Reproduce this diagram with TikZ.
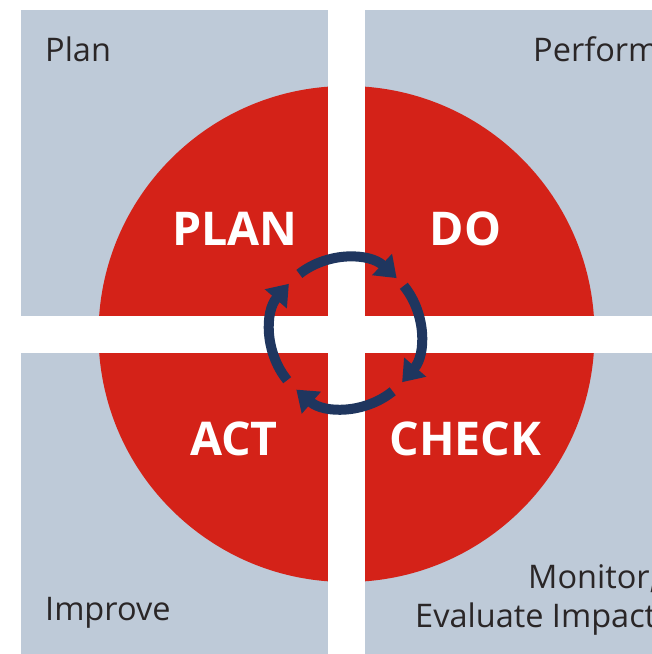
\documentclass[tikz,border=0pt]{standalone}
\usepackage{fontspec}
\setmainfont{Open Sans}
\usetikzlibrary{arrows.meta}
\definecolor{panel}{HTML}{BECAD8}
\definecolor{pdcared}{HTML}{D42218}
\definecolor{ringblue}{HTML}{1F365F}
\definecolor{labeltext}{HTML}{2A2627}
\tikzset{
  panelbox/.style={fill=panel, draw=none},
  gapband/.style={fill=white, draw=none},
  cornerlabel/.style={inner sep=0pt, text=labeltext, font=\fontsize{32.5}{39}\selectfont},
  phaselabel/.style={inner sep=0pt, text=white, font=\fontsize{46.5}{50}\selectfont\bfseries, anchor=base},
  ringarc/.style={draw=ringblue, line width=10pt, -{Triangle[width=28pt,length=20pt]}}
}
\begin{document}
\begin{tikzpicture}[x=1pt,y=1pt]
\clip (0,0) rectangle (652,654);
\fill[white] (0,0) rectangle (652,654);
% panels
\path[panelbox] (21,338) rectangle (328,644);
\path[panelbox] (365,338) rectangle (652,644);
\path[panelbox] (21,0) rectangle (328,301);
\path[panelbox] (365,0) rectangle (652,301);
% red circle
\coordinate (ctr) at (346.5,320);
\fill[pdcared] (ctr) circle[radius=248];
% white cross
\path[gapband] (328,0) rectangle (365,654);
\path[gapband] (0,301) rectangle (652,338);
% phase labels
\node[phaselabel] (plan) at (235,408) {PLAN};
\node[phaselabel] (do) at (465.5,408) {DO};
\node[phaselabel] (act) at (234,198) {ACT};
\node[phaselabel] (check) at (465.5,198) {CHECK};
% corner labels
\node[cornerlabel, anchor=base west] (lplan) at (45,592) {Plan};
\node[cornerlabel, anchor=base west] (lperf) at (533,592) {Perform};
\node[cornerlabel, anchor=base west] (limp) at (45,33) {Improve};
\node[cornerlabel, anchor=base west] (lmon) at (528,65) {Monitor,};
\node[cornerlabel, anchor=base west] (leval) at (415,26) {Evaluate Impact};
% cycle ring
\coordinate (rc) at (345.5,321);
\draw[ringarc] ([shift={(128:75)}]rc) arc[start angle=128, end angle=47, radius=75];
\draw[ringarc] ([shift={(39:75)}]rc) arc[start angle=39, end angle=-41, radius=75];
\draw[ringarc] ([shift={(-51:75)}]rc) arc[start angle=-51, end angle=-131, radius=75];
\draw[ringarc] ([shift={(-141:75)}]rc) arc[start angle=-141, end angle=-221, radius=75];
\end{tikzpicture}
\end{document}
